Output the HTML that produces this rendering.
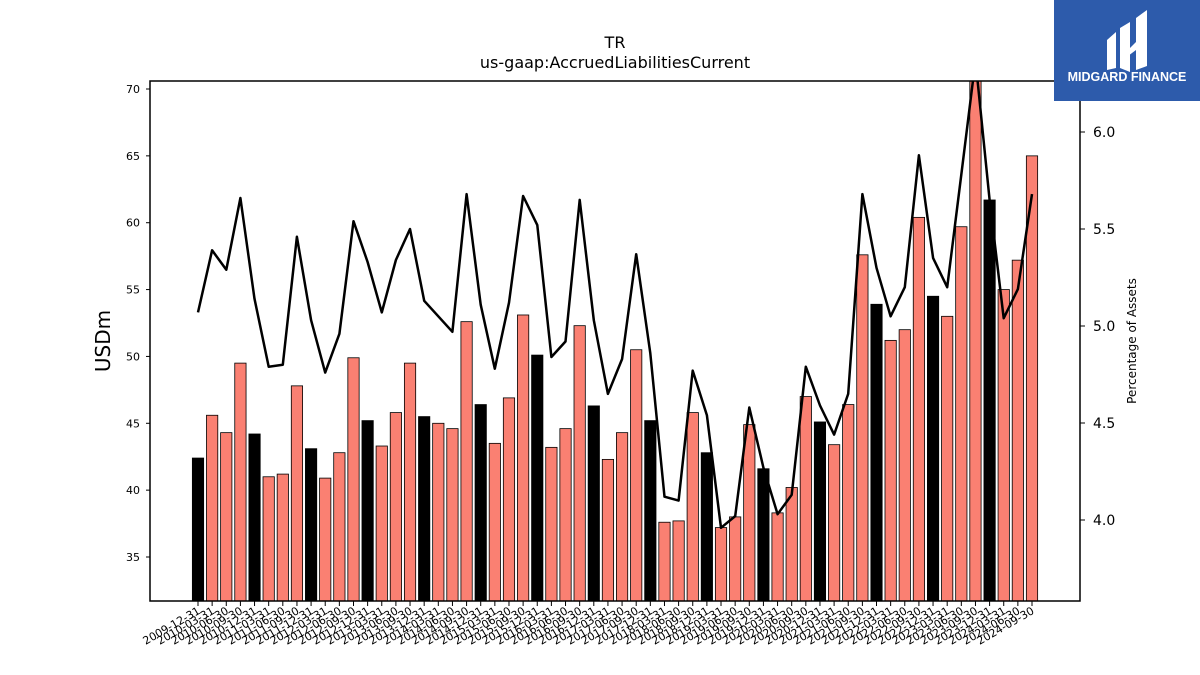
<!DOCTYPE html>
<html><head><meta charset="utf-8">
<style>
html,body{margin:0;padding:0;background:#fff;}
body{width:1200px;height:675px;overflow:hidden;position:relative;font-family:"DejaVu Sans","Liberation Sans",sans-serif;}
</style></head>
<body>
<svg id="chart" width="1200" height="675" xmlns="http://www.w3.org/2000/svg" style="position:absolute;left:0;top:0">
  <defs><clipPath id="plotclip"><rect x="150" y="81" width="930" height="520"/></clipPath></defs>
  <text x="615" y="48" text-anchor="middle" font-size="16">TR</text>
  <text x="615" y="68" text-anchor="middle" font-size="16">us-gaap:AccruedLiabilitiesCurrent</text>
  <g id="bars" clip-path="url(#plotclip)"></g>
  <g id="line" clip-path="url(#plotclip)"></g>
  <rect x="150" y="81" width="930" height="520" fill="none" stroke="#000" stroke-width="1.5"/>
  <g id="yleft"></g><g id="yright"></g><g id="xaxis"></g>
  <text transform="translate(110,341) rotate(-90)" text-anchor="middle" font-size="20">USDm</text>
  <text transform="translate(1136,341) rotate(-90)" text-anchor="middle" font-size="12">Percentage of Assets</text>
  <g>
    <rect x="1054" y="0" width="146" height="101" fill="#2d5bab"/>
    <path d="M1107 40 L1116 32 L1116 68 L1107 70 Z" fill="#fff"/>
    <path d="M1120 28 L1130 22 L1130 72 L1120 68 Z" fill="#fff"/>
    <path d="M1136 18 L1147 10 L1147 66 L1136 70 Z" fill="#fff"/>
    <path d="M1120 42 L1128 50 L1136 42 L1136 50 L1128 56 L1120 50 Z" fill="#fff"/>
    <text x="1127" y="81" text-anchor="middle" font-size="12.5" font-weight="bold" fill="#fff" font-family="Liberation Sans, sans-serif">MIDGARD FINANCE</text>
  </g>
</svg>
<script>
const categories=["2009-12-31","2010-03-31","2010-06-30","2010-09-30","2010-12-31","2011-03-31","2011-06-30","2011-09-30","2011-12-31","2012-03-31","2012-06-30","2012-09-30","2012-12-31","2013-03-31","2013-06-30","2013-09-30","2013-12-31","2014-03-31","2014-06-30","2014-09-30","2014-12-31","2015-03-31","2015-06-30","2015-09-30","2015-12-31","2016-03-31","2016-06-30","2016-09-30","2016-12-31","2017-03-31","2017-06-30","2017-09-30","2017-12-31","2018-03-31","2018-06-30","2018-09-30","2018-12-31","2019-03-31","2019-06-30","2019-09-30","2019-12-31","2020-03-31","2020-06-30","2020-09-30","2020-12-31","2021-03-31","2021-06-30","2021-09-30","2021-12-31","2022-03-31","2022-06-30","2022-09-30","2022-12-31","2023-03-31","2023-06-30","2023-09-30","2023-12-31","2024-03-31","2024-06-30","2024-09-30"];
const usdValues=[42.4,45.6,44.3,49.5,44.2,41.0,41.2,47.8,43.1,40.9,42.8,49.9,45.2,43.3,45.8,49.5,45.5,45.0,44.6,52.6,46.4,43.5,46.9,53.1,50.1,43.2,44.6,52.3,46.3,42.3,44.3,50.5,45.2,37.6,37.7,45.8,42.8,37.2,38.0,44.9,41.6,38.3,40.2,47.0,45.1,43.4,46.4,57.6,53.9,51.2,52.0,60.4,54.5,53.0,59.7,71.0,61.7,55.0,57.2,65.0];
const pctValues=[5.07,5.39,5.29,5.66,5.14,4.79,4.80,5.46,5.03,4.76,4.96,5.54,5.33,5.07,5.34,5.50,5.13,5.05,4.97,5.68,5.11,4.78,5.12,5.67,5.52,4.84,4.92,5.65,5.03,4.65,4.83,5.37,4.86,4.12,4.10,4.77,4.54,3.96,4.02,4.58,4.27,4.03,4.13,4.79,4.59,4.44,4.65,5.68,5.30,5.05,5.20,5.88,5.35,5.20,5.78,6.37,5.65,5.04,5.19,5.68];
const leftTicks=[35,40,45,50,55,60,65,70];
const rightTicks=[4.0,4.5,5.0,5.5,6.0];

const NS="http://www.w3.org/2000/svg";
const L=150,R=1080,T=81,B=601;
const yL=v=>89+(70-v)*(468/35);
const yR=v=>132+(6-v)*194;
const step=(1032-198)/(categories.length-1);
const xC=i=>198+i*step;
function mk(tag,attrs,parent){const e=document.createElementNS(NS,tag);for(const k in attrs)e.setAttribute(k,attrs[k]);parent.appendChild(e);return e;}
const gb=document.getElementById('bars');
const bw=step*0.8;
usdValues.forEach((v,i)=>{
  const y=yL(v);
  const r=mk('rect',{x:xC(i)-bw/2,y:y,width:bw,height:B-y,fill:(i%4===0)?'#000':'#fa8072',stroke:'#000','stroke-width':0.8},gb);
  
  
});
const gl=document.getElementById('line');
const pts=pctValues.map((v,i)=>xC(i).toFixed(1)+','+yR(v).toFixed(1)).join(' ');
const pl=mk('polyline',{points:pts,fill:'none',stroke:'#000','stroke-width':2.5,'stroke-linejoin':'round'},gl);


const gyl=document.getElementById('yleft');
leftTicks.forEach(t=>{
  const y=yL(t);
  mk('line',{x1:L-4,x2:L,y1:y,y2:y,stroke:'#000'},gyl);
  const tx=mk('text',{x:L-10,y:y+4,'text-anchor':'end','font-size':11},gyl);
  tx.textContent=t;
  
  
});
const gyr=document.getElementById('yright');
rightTicks.forEach(t=>{
  const y=yR(t);
  mk('line',{x1:R,x2:R+5,y1:y,y2:y,stroke:'#000'},gyr);
  const tx=mk('text',{x:R+13,y:y+5,'font-size':14},gyr);
  tx.textContent=t.toFixed(1);
  
  
});
const gx=document.getElementById('xaxis');
categories.forEach((c,i)=>{
  const x=xC(i);
  mk('line',{x1:x,x2:x,y1:B,y2:B+5,stroke:'#000'},gx);
  const tx=mk('text',{transform:`translate(${x+3},${B+12}) rotate(-30)`,'text-anchor':'end','font-size':11},gx);
  tx.textContent=c;
  
  
});
</script>
</body></html>
